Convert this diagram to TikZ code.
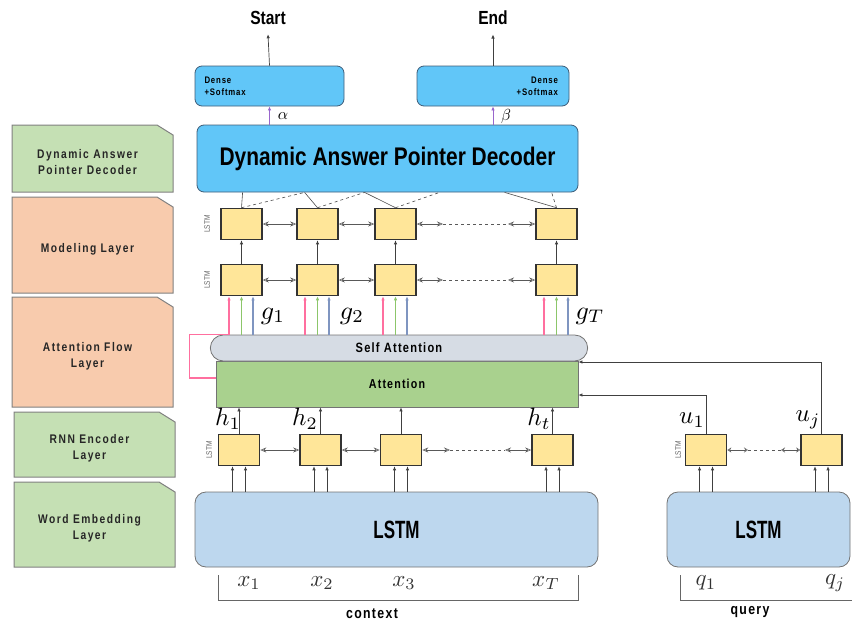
\documentclass[tikz,border=0pt]{standalone}
\usepackage{fontspec}
\setmainfont{Liberation Sans}[FakeStretch=0.82]
\newfontfamily\lblfont{Liberation Sans}[FakeStretch=0.82,LetterSpace=12]
\newfontfamily\widefont{Liberation Sans}[FakeStretch=0.82,LetterSpace=9]
\newfontfamily\narrowfont{Liberation Sans}[FakeStretch=0.68]
\usetikzlibrary{arrows.meta,shapes.misc,calc}
\definecolor{lgreen}{HTML}{C5E0B4}
\definecolor{lsalmon}{HTML}{F8CBAD}
\definecolor{decblue}{HTML}{61C6F8}
\definecolor{decedge}{HTML}{3F5D78}
\definecolor{sagray}{HTML}{D6DCE4}
\definecolor{attgreen}{HTML}{A9D18E}
\definecolor{cellyel}{HTML}{FFE699}
\definecolor{lstmblue}{HTML}{BDD7EE}
\definecolor{purp}{HTML}{9966CC}
\definecolor{pinkc}{HTML}{FF6F9F}
\definecolor{greenc}{HTML}{8CC66A}
\definecolor{bluec}{HTML}{7F95C0}
\newcommand\layerbox[7]{%
  \filldraw[fill=#6,draw=black!50,line width=1pt] (#2,#3) -- (#4-16,#3) -- (#4,#3+10) -- (#4,#5) -- (#2,#5) -- cycle;
  \node[lbltext] (#1) at ({(#2+#4)/2-5},{(#3+#5)/2+4}) {#7};
}
\newcommand\mlbl[2]{\scalebox{#1}{$#2$}}
\begin{document}
\begin{tikzpicture}[x=1pt,y=-1pt,
  lbltext/.style={font=\lblfont\bfseries\fontsize{12.5}{16}\selectfont,align=center,text=black!85},
  cell/.style={draw=black!80,line width=1.6pt,fill=cellyel,minimum width=41pt,minimum height=31pt,inner sep=0pt},
  arr/.style={-{Latex[length=4pt,width=3.5pt]},line width=0.7pt,draw=black!75},
  bi/.style={{Stealth[open,length=6pt,width=5pt]}-{Stealth[open,length=6pt,width=5pt]},line width=0.6pt,draw=black!65},
  dsh/.style={dashed,line width=0.7pt,draw=black!65},
  link/.style={line width=0.6pt,draw=black!70},
  dlink/.style={dashed,line width=0.6pt,draw=black!70},
  parr/.style={-{Latex[length=4pt,width=3.5pt]},line width=1.1pt,draw=pinkc},
  garr/.style={-{Latex[length=4pt,width=3.5pt]},line width=1.1pt,draw=greenc},
  barr/.style={-{Latex[length=4pt,width=3.5pt]},line width=1.1pt,draw=bluec},
  rot/.style={rotate=90,font=\fontsize{8}{8}\selectfont,text=black!60,inner sep=0pt},
  mathlbl/.style={inner sep=0pt},
  xlbl/.style={inner sep=0pt,text=black!80},
  blue box/.style={draw=decedge,line width=0.8pt,fill=decblue,rounded corners=7pt}
]
\useasboundingbox (0,0) rectangle (852,624);

% left layer labels
\layerbox{L1}{12}{125}{173}{192}{lgreen}{Dynamic Answer\\Pointer Decoder}
\layerbox{L2}{12}{197}{173}{293}{lsalmon}{Modeling Layer}
\layerbox{L3}{12}{297}{173}{407}{lsalmon}{Attention Flow\\Layer}
\layerbox{L4}{14}{412}{175}{477}{lgreen}{RNN Encoder\\Layer}
\layerbox{L5}{14}{482}{175}{567}{lgreen}{Word Embedding\\Layer}

% top outputs
\node[font=\bfseries\fontsize{19}{19}\selectfont] (start) at (268,18) {Start};
\node[font=\bfseries\fontsize{19}{19}\selectfont] (end) at (493,18) {End};
\node[blue box,minimum width=149pt,minimum height=40pt,text width=130pt,align=left,
      font=\widefont\bfseries\fontsize{9.5}{12}\selectfont] (den1) at (269.5,86) {Dense\\+Softmax};
\node[blue box,minimum width=152pt,minimum height=40pt,text width=130pt,align=right,
      font=\widefont\bfseries\fontsize{9.5}{12}\selectfont] (den2) at (493,86) {Dense\\+Softmax};
\draw[arr] (den1.north) -- ([yshift=-6pt]start.south);
\draw[arr] (den2.north) -- ([yshift=-6pt]end.south);

% decoder
\node[blue box,minimum width=381pt,minimum height=67pt,
      font=\bfseries\fontsize{25.5}{26}\selectfont] (dec) at (387.5,158.5) {Dynamic Answer Pointer Decoder};
\draw[-{Latex[length=4pt,width=3.5pt]},line width=0.9pt,draw=purp] (dec.north -| den1.south) -- (den1.south);
\draw[-{Latex[length=4pt,width=3.5pt]},line width=0.9pt,draw=purp] (dec.north -| den2.south) -- (den2.south);
\node[mathlbl] (alpha) at (283,116) {\mlbl{1.6}{\alpha}};
\node[mathlbl] (beta) at (506,116) {\mlbl{1.6}{\beta}};

% modeling layer cells
\node[cell] (m1) at (241.5,224) {};
\node[cell] (m2) at (317.5,224) {};
\node[cell] (m3) at (395.5,224) {};
\node[cell] (m4) at (556.5,224) {};
\node[cell] (l1) at (241.5,280) {};
\node[cell] (l2) at (317.5,280) {};
\node[cell] (l3) at (395.5,280) {};
\node[cell] (l4) at (556.5,280) {};
\node[rot] (rm) at (207,224) {LSTM};
\node[rot] (rl) at (207,280) {LSTM};

\draw[bi] (m1.east) -- (m2.west);
\draw[bi] (m2.east) -- (m3.west);
\coordinate (ma) at (443,224);
\coordinate (mb) at (508,224);
\draw[bi] (m3.east) -- (ma);
\draw[dsh] (ma) -- (mb);
\draw[bi] (mb) -- (m4.west);
\draw[bi] (l1.east) -- (l2.west);
\draw[bi] (l2.east) -- (l3.west);
\coordinate (la) at (443,280);
\coordinate (lb) at (508,280);
\draw[bi] (l3.east) -- (la);
\draw[dsh] (la) -- (lb);
\draw[bi] (lb) -- (l4.west);
\foreach \i in {1,2,3,4} \draw[arr] (l\i.north) -- (m\i.south);

% decoder to cells
\draw[link] ($(dec.south west)+(46,0)$) -- (m1.north);
\draw[dlink] (m1.north) -- ($(dec.south west)+(108,0)$);
\draw[link] ($(dec.south west)+(108,0)$) -- (m2.north);
\draw[dlink] (m2.north) -- ($(dec.south west)+(168,0)$);
\draw[link] ($(dec.south west)+(168,0)$) -- (m3.north);
\draw[dlink] (m3.north) -- ($(dec.south west)+(243,0)$);
\draw[link] ($(dec.south west)+(308,0)$) -- (m4.north);
\draw[dlink] (m4.north) -- ($(dec.south west)+(355,0)$);

% attention
\node[draw=black!55,line width=0.8pt,fill=attgreen,minimum width=362pt,minimum height=46pt,
      font=\widefont\bfseries\fontsize{13}{13}\selectfont] (att) at (397,384) {Attention};
\node[rounded rectangle,draw=black!55,line width=0.8pt,fill=sagray,minimum width=384pt,minimum height=26pt,
      font=\widefont\bfseries\fontsize{13.5}{13}\selectfont] (sa) at (399,348) {Self Attention};

% coloured inputs to modeling layer
\coordinate (pk) at ($(sa.north -| l1.south)+(-12.5,0)$);
\draw[parr] ($(att.west)+(0,-6)$) -- ++(-26,0) |- (pk) -- ($(l1.south)+(-12.5,0)$);
\draw[garr] (sa.north -| l1.south) -- (l1.south);
\draw[barr] ($(sa.north -| l1.south)+(11.5,0)$) -- ($(l1.south)+(11.5,0)$);
\foreach \i in {2,3,4}{
  \draw[parr] ($(sa.north -| l\i.south)+(-12.5,0)$) -- ($(l\i.south)+(-12.5,0)$);
  \draw[garr] (sa.north -| l\i.south) -- (l\i.south);
  \draw[barr] ($(sa.north -| l\i.south)+(11.5,0)$) -- ($(l\i.south)+(11.5,0)$);
}
\node[mathlbl] (g1) at (273,316) {\mlbl{2.6}{g_1}};
\node[mathlbl] (g2) at (352,316) {\mlbl{2.6}{g_2}};
\node[mathlbl] (gT) at (590,316) {\mlbl{2.6}{g_T}};

% encoder cells
\node[cell] (e1) at (239,450) {};
\node[cell] (e2) at (320.5,450) {};
\node[cell] (e3) at (401,450) {};
\node[cell] (e4) at (552.5,450) {};
\node[rot] (re) at (209,450) {LSTM};
\draw[bi] (e1.east) -- (e2.west);
\draw[bi] (e2.east) -- (e3.west);
\coordinate (ea) at (450,450);
\coordinate (eb) at (505,450);
\draw[bi] (e3.east) -- (ea);
\draw[dsh] (ea) -- (eb);
\draw[bi] (eb) -- (e4.west);
\foreach \i in {1,2,3,4} \draw[arr] (e\i.north) -- (e\i.north |- att.south);
\node[mathlbl] (h1) at (228,419) {\mlbl{2.5}{h_1}};
\node[mathlbl] (h2) at (305,419) {\mlbl{2.5}{h_2}};
\node[mathlbl] (ht) at (539,419) {\mlbl{2.5}{h_t}};

% query cells
\node[cell] (q1) at (706,450) {};
\node[cell] (q2) at (821.5,450) {};
\node[rot] (rq) at (678,450) {LSTM};
\coordinate (qa) at (748,450);
\coordinate (qb) at (781,450);
\draw[{Stealth[open,length=4pt,width=5pt]}-{Stealth[open,length=4pt,width=5pt]},line width=0.5pt,draw=black!65] (q1.east) -- (qa);
\draw[dsh] (qa) -- (qb);
\draw[{Stealth[open,length=4pt,width=5pt]}-{Stealth[open,length=4pt,width=5pt]},line width=0.5pt,draw=black!65] (qb) -- (q2.west);
\draw[arr] (q1.north) |- ([yshift=-11pt]att.east);
\draw[arr] (q2.north) |- ([yshift=22pt]att.east);
\node[mathlbl] (u1) at (692,420) {\mlbl{2.5}{u_1}};
\node[mathlbl] (uj) at (808,420) {\mlbl{2.5}{u_j}};

% word embedding LSTMs
\node[draw=black!55,line width=0.8pt,fill=lstmblue,rounded corners=11pt,minimum width=403pt,minimum height=75pt,
      font=\narrowfont\bfseries\fontsize{25}{25}\selectfont] (lc) at (396.5,529.5) {LSTM};
\node[draw=black!55,line width=0.8pt,fill=lstmblue,rounded corners=11pt,minimum width=183pt,minimum height=75pt,
      font=\narrowfont\bfseries\fontsize{25}{25}\selectfont] (lq) at (758.5,529.5) {LSTM};
\foreach \n in {e1,e2,e3,e4}{
  \draw[arr] ($(lc.north -| \n.south)+(-6.5,0)$) -- ($(\n.south)+(-6.5,0)$);
  \draw[arr] ($(lc.north -| \n.south)+(6.5,0)$) -- ($(\n.south)+(6.5,0)$);
}
\foreach \n in {q1,q2}{
  \draw[arr] ($(lq.north -| \n.south)+(-6.5,0)$) -- ($(\n.south)+(-6.5,0)$);
  \draw[arr] ($(lq.north -| \n.south)+(6.5,0)$) -- ($(\n.south)+(6.5,0)$);
}

% inputs
\node[xlbl] (x1) at (249,583) {\mlbl{2.3}{x_1}};
\node[xlbl] (x2) at (322,583) {\mlbl{2.3}{x_2}};
\node[xlbl] (x3) at (404,583) {\mlbl{2.3}{x_3}};
\node[xlbl] (xT) at (546,583) {\mlbl{2.3}{x_T}};
\node[xlbl] (qq1) at (706,583) {\mlbl{2.3}{q_1}};
\node[xlbl] (qqj) at (835,583) {\mlbl{2.3}{q_j}};
\draw[line width=0.6pt,draw=black!60] (218,575) -- (218,600) -- (578,600) -- (578,575);
\draw[line width=0.6pt,draw=black!60] (680,575) -- (680,600) -- (852,600);
\node[font=\widefont\bfseries\fontsize{15}{15}\selectfont] (ctx) at (372,614) {context};
\node[font=\widefont\bfseries\fontsize{15}{15}\selectfont] (qry) at (750,612) {query};
\end{tikzpicture}
\end{document}
